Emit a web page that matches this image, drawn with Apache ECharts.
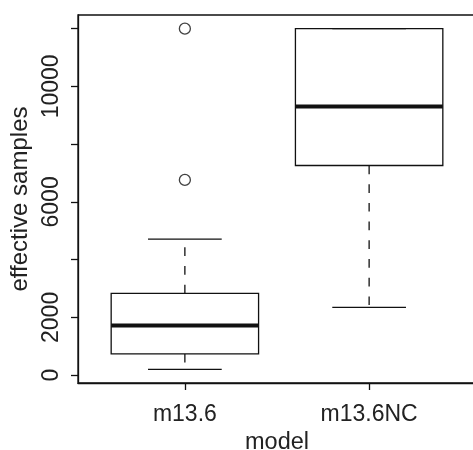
<!DOCTYPE html>
<html>
<head>
<meta charset="utf-8">
<script src="https://cdn.jsdelivr.net/npm/echarts@6/dist/echarts.min.js"></script>
<style>
  html, body { margin: 0; padding: 0; background: #fff; }
  #chart { width: 473px; height: 450px; }
</style>
</head>
<body>
<div id="chart"></div>
<script>
// ---- data ----
const categories = ['m13.6', 'm13.6NC'];
const lowerWhisker = [200, 2350];
const lowerQuartile = [735, 7260];
const medians = [1720, 9300];
const upperQuartile = [2830, 12000];
const upperWhisker = [4710, 12000];
const outlierModel = ['m13.6', 'm13.6'];
const outlierValues = [12000, 6760];
const yTickValues = [0, 2000, 4000, 6000, 8000, 10000, 12000];
const yLabelValues = [0, 2000, 6000, 10000];

// ---- build ----
const FONT = 'Liberation Sans';
const boxData = categories.map((c, i) => [i + 1, lowerWhisker[i], lowerQuartile[i], medians[i], upperQuartile[i], upperWhisker[i]]);
const outlierData = outlierValues.map((v, i) => [categories.indexOf(outlierModel[i]) + 1, v]);

function renderBox(params, api) {
  const x = api.value(0);
  const lo = api.value(1), q1 = api.value(2), med = api.value(3), q3 = api.value(4), hi = api.value(5);
  const half = 0.4, capHalf = 0.2;
  const pL = api.coord([x - half, q3]);
  const pR = api.coord([x + half, q1]);
  const mL = api.coord([x - half, med]);
  const mR = api.coord([x + half, med]);
  const cLo = api.coord([x, lo]);
  const cHi = api.coord([x, hi]);
  const cQ1 = api.coord([x, q1]);
  const cQ3 = api.coord([x, q3]);
  const capL = api.coord([x - capHalf, 0])[0];
  const capR = api.coord([x + capHalf, 0])[0];
  const solid = { stroke: '#111', lineWidth: 1.3 };
  const dashed = { stroke: '#111', lineWidth: 1.3, lineDash: [8.7, 10] };
  return {
    type: 'group',
    children: [
      { type: 'line', shape: { x1: cQ3[0], y1: cQ3[1], x2: cHi[0], y2: cHi[1] }, style: dashed },
      { type: 'line', shape: { x1: cQ1[0], y1: cQ1[1], x2: cLo[0], y2: cLo[1] }, style: dashed },
      { type: 'line', shape: { x1: capL, y1: cHi[1], x2: capR, y2: cHi[1] }, style: solid },
      { type: 'line', shape: { x1: capL, y1: cLo[1], x2: capR, y2: cLo[1] }, style: solid },
      { type: 'rect', shape: { x: pL[0], y: pL[1], width: pR[0] - pL[0], height: pR[1] - pL[1] }, style: Object.assign({}, solid, { fill: 'rgba(0,0,0,0)' }) },
      { type: 'line', shape: { x1: mL[0], y1: mL[1], x2: mR[0], y2: mR[1] }, style: { stroke: '#111', lineWidth: 4 } }
    ]
  };
}

const chart = echarts.init(document.getElementById('chart'), null, { renderer: 'canvas' });
chart.setOption({
  animation: false,
  backgroundColor: '#fff',
  textStyle: { fontFamily: FONT },
  grid: {
    left: 78, top: 15, width: 398, height: 368,
    outerBoundsMode: 'none',
    show: true, borderColor: '#111', borderWidth: 1.3, backgroundColor: 'transparent',
    containLabel: false
  },
  xAxis: {
    type: 'value', min: 0.42, max: 2.58,
    name: 'model', nameLocation: 'middle', nameGap: 46,
    nameTextStyle: { fontFamily: FONT, fontSize: 23.5, color: '#222' },
    axisLine: { show: true, onZero: false, lineStyle: { color: '#111', width: 1.3 } },
    axisTick: { show: true, length: 7, customValues: [1, 2], lineStyle: { color: '#111', width: 1.3 } },
    axisLabel: {
      customValues: [1, 2], margin: 20,
      fontFamily: FONT, fontSize: 23, color: '#222',
      formatter: v => categories[Math.round(v) - 1] || ''
    },
    splitLine: { show: false }
  },
  yAxis: {
    type: 'value', min: -272, max: 12472,
    name: 'effective samples', nameLocation: 'middle', nameGap: 37, nameRotate: 90,
    nameTextStyle: { fontFamily: FONT, fontSize: 24, color: '#222' },
    axisLine: { show: true, onZero: false, lineStyle: { color: '#111', width: 1.3 } },
    axisTick: { show: true, length: 7, customValues: yTickValues, lineStyle: { color: '#111', width: 1.3 } },
    axisLabel: {
      customValues: yLabelValues, rotate: 90, margin: 15,
      fontFamily: FONT, fontSize: 23, color: '#222',
      align: 'center', verticalAlign: 'bottom',
      formatter: v => String(v)
    },
    splitLine: { show: false }
  },
  series: [
    {
      type: 'custom',
      renderItem: renderBox,
      data: boxData,
      encode: { x: 0, y: [1, 2, 3, 4, 5] },
      clip: false
    },
    {
      type: 'scatter',
      data: outlierData,
      symbol: 'circle',
      symbolSize: 11,
      itemStyle: { color: '#fff', borderColor: '#111', borderWidth: 1.3 }
    }
  ]
});
</script>
</body>
</html>
